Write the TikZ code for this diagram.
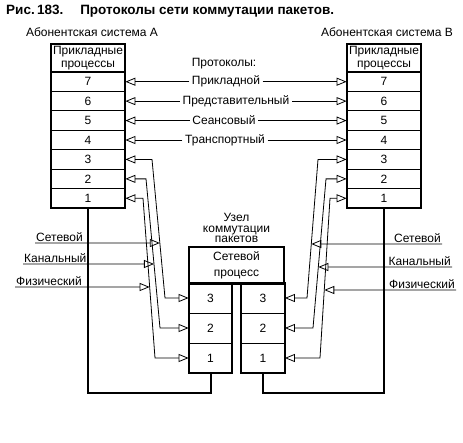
\documentclass[tikz,border=0pt]{standalone}
\usepackage{fontspec}
\setmainfont{Liberation Sans}
\usetikzlibrary{arrows.meta,calc}
\tikzset{
  >={Triangle[open,length=10pt,width=8pt]},
  conn/.style={line width=0.8pt},
  frame/.style={line width=2pt},
  txt/.style={inner sep=1pt, font=\fontsize{12}{13}\selectfont},
  rowbox/.style={draw, line width=0.8pt, inner sep=0pt, font=\fontsize{12}{13}\selectfont},
  abrow/.style={rowbox, minimum width=74pt, minimum height=19.43pt},
  crow/.style={rowbox, minimum width=43pt, minimum height=30pt},
  proto/.style={inner sep=2.5pt, font=\fontsize{12}{13}\selectfont},
}
\begin{document}
\begin{tikzpicture}[x=1pt,y=-1pt]
\useasboundingbox (0,0) rectangle (463,443);
% title
\node[anchor=base west, inner sep=0pt, font=\fontsize{13.5}{15}\selectfont\bfseries] (title) at (6,15)
  {Рис.\,183.\hspace{17pt}Протоколы сети коммутации пакетов.};
% system labels
\node[txt] (la) at (92,32) {Абонентская система А};
\node[txt] (lb) at (387,32) {Абонентская система В};
% stacks A and B
\foreach \k in {7,...,1}{
  \node[abrow] (A\k) at (88,{72+19.43*(7.5-\k)}) {\k};
  \node[abrow] (B\k) at (384,{72+19.43*(7.5-\k)}) {\k};
}
\node[abrow, frame, minimum height=28pt, align=center, font=\fontsize{12}{12.5}\selectfont] (Ah) at (88,58) {Прикладные\\процессы};
\node[abrow, frame, minimum height=28pt, align=center, font=\fontsize{12}{12.5}\selectfont] (Bh) at (384,58) {Прикладные\\процессы};
\draw[frame] (A7.north west) rectangle (A1.south east);
\draw[frame] (B7.north west) rectangle (B1.south east);
% protocols
\node[txt] (pt) at (224,64) {Протоколы:};
\node[proto] (p7) at (226,{72+19.43*0.5}) {Прикладной};
\node[proto] (p6) at (236,{72+19.43*1.5}) {Представительный};
\node[proto] (p5) at (224,{72+19.43*2.5}) {Сеансовый};
\node[proto] (p4) at (225,{72+19.43*3.5}) {Транспортный};
\foreach \k in {7,6,5,4}{
  \draw[conn,->] (p\k.west) -- (A\k.east);
  \draw[conn,->] (p\k.east) -- (B\k.west);
}
% switching node
\node[txt, align=center, font=\fontsize{12}{10.5}\selectfont] (un) at (236.5,228) {Узел\\коммутации\\пакетов};
\node[draw, frame, minimum width=95pt, minimum height=36pt, inner sep=0pt, align=center,
  font=\fontsize{12}{16}\selectfont] (Ch) at (236.5,265) {Сетевой\\процесс};
\foreach \k/\yy in {3/298,2/328,1/358}{
  \node[crow] (L\k) at (210.5,\yy) {\k};
  \node[crow] (R\k) at (263,\yy) {\k};
}
\draw[frame] (L3.north west) rectangle (L1.south east);
\draw[frame] (R3.north west) rectangle (R1.south east);
\draw[frame] (Ch.south west) -- (Ch.south east);
% physical links
\draw[frame] (A1.south) -- ++(0,185) -| (L1.south);
\draw[frame] (B1.south) -- ++(0,185) -| (R1.south);
% left connectors
\coordinate (a3) at (152,{72+19.43*4.5});
\coordinate (b3) at (165,298);
\coordinate (a2) at (146,{72+19.43*5.5});
\coordinate (b2) at (160,328);
\coordinate (a1) at (143,{72+19.43*6.5});
\coordinate (b1) at (155,358);
\foreach \k in {3,2,1}{
  \draw[conn,<->] (A\k.east) -- (a\k) -- (b\k) -- (L\k.west);
}
% right connectors
\coordinate (d3) at (318,{72+19.43*4.5});
\coordinate (e3) at (307,298);
\coordinate (d2) at (326,{72+19.43*5.5});
\coordinate (e2) at (313,328);
\coordinate (d1) at (330,{72+19.43*6.5});
\coordinate (e1) at (320,358);
\foreach \k in {3,2,1}{
  \draw[conn,<->] (B\k.west) -- (d\k) -- (e\k) -- (R\k.east);
}
% left lower labels
\coordinate (s3) at (35,243);
\coordinate (s2) at (23,264);
\coordinate (s1) at (15,287);
\node[txt, anchor=south west] (ln3) at (s3) {Сетевой};
\node[txt, anchor=south west] (ln2) at (s2) {Канальный};
\node[txt, anchor=south west] (ln1) at (s1) {Физический};
\coordinate (i3) at ($(a3)!{(243-159.435)/(298-159.435)}!(b3)$);
\coordinate (i2) at ($(a2)!{(264-178.865)/(328-178.865)}!(b2)$);
\coordinate (i1) at ($(a1)!{(287-198.295)/(358-198.295)}!(b1)$);
\foreach \k in {3,2,1}{
  \draw[conn,->] (s\k) -- (i\k);
}
% right lower labels
\coordinate (u3) at (442,244);
\coordinate (u2) at (452,267);
\coordinate (u1) at (456,290);
\node[txt, anchor=south east] (rn3) at (u3) {Сетевой};
\node[txt, anchor=south east] (rn2) at (u2) {Канальный};
\node[txt, anchor=south east] (rn1) at (u1) {Физический};
\coordinate (j3) at ($(d3)!{(244-159.435)/(298-159.435)}!(e3)$);
\coordinate (j2) at ($(d2)!{(267-178.865)/(328-178.865)}!(e2)$);
\coordinate (j1) at ($(d1)!{(290-198.295)/(358-198.295)}!(e1)$);
\foreach \k in {3,2,1}{
  \draw[conn,->] (u\k) -- (j\k);
}
\end{tikzpicture}
\end{document}
